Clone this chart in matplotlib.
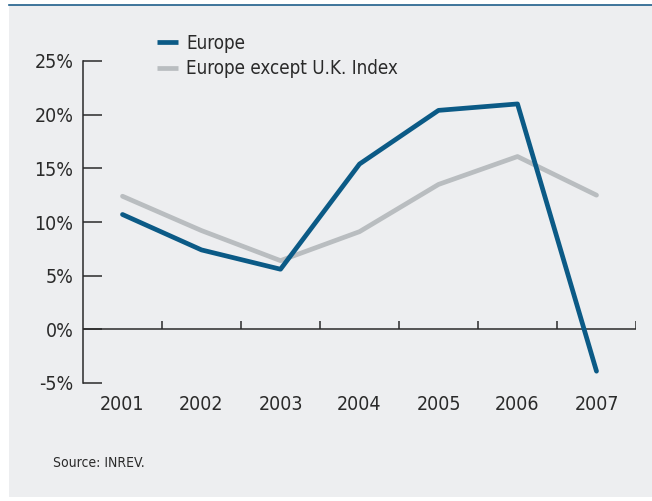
import numpy as np
import matplotlib.pyplot as plt
from matplotlib import font_manager
from matplotlib.patches import Rectangle
from matplotlib.lines import Line2D

years = ["2001", "2002", "2003", "2004", "2005", "2006", "2007"]
europe = [10.7, 7.4, 5.6, 15.4, 20.4, 21.0, -3.9]
europe_ex_uk = [12.4, 9.2, 6.4, 9.1, 13.5, 16.1, 12.5]
yticks = [-5, 0, 5, 10, 15, 20, 25]

names = {f.name for f in font_manager.fontManager.ttflist}
if 'Liberation Sans Narrow' in names:
    plt.rcParams['font.family'] = ['Liberation Sans Narrow', 'DejaVu Sans']
else:
    plt.rcParams['font.family'] = ['DejaVu Sans']
    plt.rcParams['font.stretch'] = 'condensed'

bg = '#edeef0'
blue = '#0b5a86'
grey = '#b9bdc0'
ink = '#2a2a2a'

fig = plt.figure(figsize=(6.52, 5.01), dpi=100)
fig.patch.set_facecolor('white')
# panel background + top rule
fig.patches.append(Rectangle((9 / 652, 4 / 501), 643 / 652, 492 / 501,
                             transform=fig.transFigure, facecolor=bg,
                             edgecolor='none', zorder=-10))
fig.add_artist(Line2D([9 / 652, 1], [496 / 501, 496 / 501], color='#1f5f8b',
                      lw=1.2, transform=fig.transFigure))

ax = fig.add_axes([83 / 652, 118 / 501, 553 / 652, 322 / 501])
ax.set_facecolor('none')
x = np.arange(len(years))

ax.plot(x, europe_ex_uk, color=grey, lw=3.4, solid_capstyle='round', zorder=3)
ax.plot(x, europe, color=blue, lw=3.4, solid_capstyle='round', zorder=4)

ax.set_xlim(-0.5, len(years) - 0.5)
ax.set_ylim(-5, 25)

# zero line with category boundary ticks
ax.axhline(0, color=ink, lw=1.1, zorder=2)
bounds = np.arange(len(years)) + 0.5
ax.vlines(bounds, 0, 0.8, color=ink, lw=1.1, zorder=2)

for s in ['top', 'right', 'bottom']:
    ax.spines[s].set_visible(False)
ax.spines['left'].set_color(ink)
ax.spines['left'].set_linewidth(1.1)

ax.set_yticks(yticks)
ax.set_yticklabels([f"{v}%" for v in yticks])
ax.tick_params(axis='y', direction='in', length=14, width=1.1, color=ink,
               labelsize=14, labelcolor=ink, pad=7)
ax.set_xticks(x)
ax.set_xticklabels(years)
ax.tick_params(axis='x', length=0, labelsize=14, labelcolor=ink, pad=9)

handles = [Line2D([], [], color=blue, lw=3.4, solid_capstyle='butt'),
           Line2D([], [], color=grey, lw=3.4, solid_capstyle='butt')]
fig.legend(handles, ["Europe", "Europe except U.K. Index"],
           loc='upper left', bbox_to_anchor=(140 / 652, 484 / 501),
           frameon=False, fontsize=13.5, handlelength=1.1, handletextpad=0.45,
           labelspacing=0.35, labelcolor=ink)

fig.text(53 / 652, 38 / 501, "Source: INREV.", fontsize=10, color=ink,
         va='center')

fig.savefig("out.png", dpi=100)
